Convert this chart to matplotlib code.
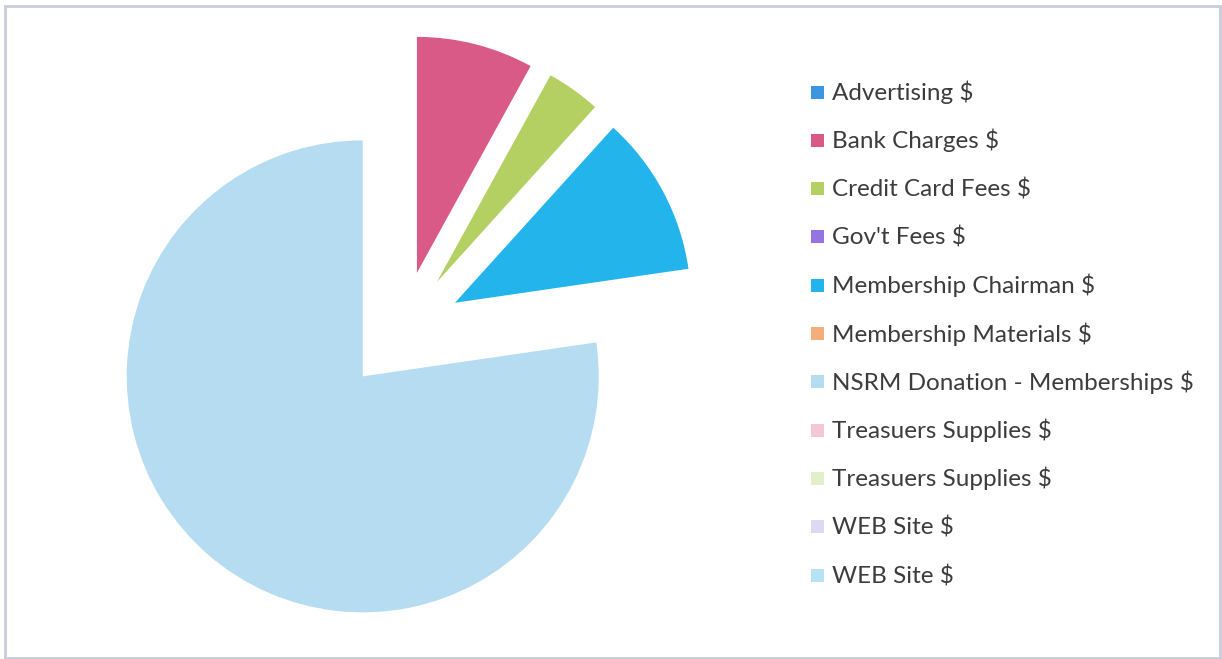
import matplotlib.pyplot as plt
import matplotlib.patches as mpatches

categories = [
    "Advertising $",
    "Bank Charges $",
    "Credit Card Fees $",
    "Gov't Fees $",
    "Membership Chairman $",
    "Membership Materials $",
    "NSRM Donation - Memberships $",
    "Treasuers Supplies $",
    "Treasuers Supplies $",
    "WEB Site $",
    "WEB Site $",
]
values = [0, 80, 37, 0, 110, 0, 773, 0, 0, 0, 0]
colors = ['#3d97e0', '#d95a86', '#b4cf62', '#9474e0', '#22b4ea', '#f4ae7c',
          '#b5dcf1', '#f3c8d6', '#e3eecb', '#dcdaf3', '#b6e3f3']

W, H = 1222, 659
fig = plt.figure(figsize=(W / 100, H / 100), dpi=100)
ax = fig.add_axes([0, 0, 1, 1])

# pie centre / radius in pixel units (y measured from bottom)
cx, cy, r = 402, H - 331, 236
wedges, _ = ax.pie(values, colors=colors, startangle=90, counterclock=False,
                   explode=[60] * len(values), center=(cx, cy), radius=r,
                   wedgeprops=dict(linewidth=0))
ax.set_xlim(0, W)
ax.set_ylim(0, H)
ax.set_aspect('equal')
ax.axis('off')

# chart area border
ax.add_patch(mpatches.Rectangle((5, 1), W - 7, H - 7, fill=False,
                                edgecolor='#c9ccd9', linewidth=2))

# legend, evenly spaced rows like the Excel one
for i, (lab, col) in enumerate(zip(categories, colors)):
    yc = H - (92 + 48.3 * i)
    ax.add_patch(mpatches.Rectangle((811, yc - 6.5), 13, 13,
                                    facecolor=col, edgecolor='none'))
    ax.text(832, yc - 8, lab, family='Lato', fontsize=17.5, color='#3c3c3c',
            ha='left', va='baseline')

plt.savefig('out.png', dpi=100)
